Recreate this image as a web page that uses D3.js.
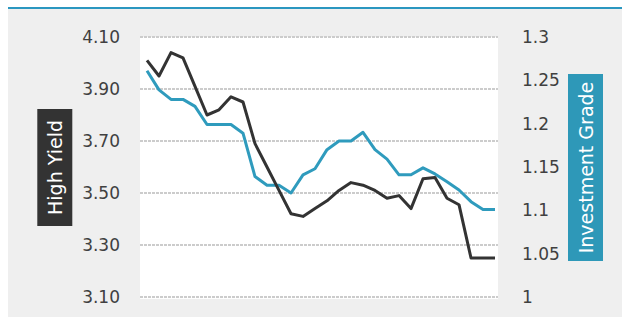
<!DOCTYPE html>
<html>
<head>
<meta charset="utf-8">
<script src="https://cdn.jsdelivr.net/npm/d3@7"></script>
<style>
  html, body { margin: 0; padding: 0; background: #ffffff; }
  svg { display: block; }
  .tick text { font-family: "DejaVu Sans", sans-serif; font-size: 17px; fill: #404040; }
</style>
</head>
<body>
<div id="chart"></div>
<script>
// valores (30 períodos)
const periods = d3.range(30);
const highYield = [4.01, 3.95, 4.04, 4.02, 3.91, 3.80, 3.82, 3.87, 3.85, 3.69,
                   3.60, 3.51, 3.42, 3.41, 3.44, 3.47, 3.51, 3.54, 3.53, 3.51,
                   3.48, 3.49, 3.44, 3.555, 3.56, 3.48, 3.455, 3.25, 3.25, 3.25];
const investGrade = [1.261, 1.239, 1.228, 1.228, 1.22, 1.199, 1.199, 1.199, 1.189, 1.139,
                     1.129, 1.129, 1.12, 1.141, 1.148, 1.17, 1.18, 1.18, 1.19, 1.17,
                     1.159, 1.141, 1.141, 1.149, 1.142, 1.133, 1.1235, 1.11, 1.101, 1.101];
const leftTicks = [3.10, 3.30, 3.50, 3.70, 3.90, 4.10];
const rightTicks = [1, 1.05, 1.1, 1.15, 1.2, 1.25, 1.3];
const leftTitle = "High Yield";
const rightTitle = "Investment Grade";

const W = 622, H = 317;
const plot = { left: 140, right: 498, top: 37, bottom: 297 };

const svg = d3.select("#chart").append("svg")
    .attr("width", W)
    .attr("height", H);

// fundo cinza e linha azul no topo
svg.append("rect")
    .attr("x", 8).attr("y", 9)
    .attr("width", W - 8).attr("height", H - 9)
    .attr("fill", "#efefef");
svg.append("line")
    .attr("x1", 8).attr("x2", W)
    .attr("y1", 8).attr("y2", 8)
    .attr("stroke", "#2a97c0")
    .attr("stroke-width", 2);

// área branca do gráfico
svg.append("rect")
    .attr("x", plot.left).attr("y", plot.top)
    .attr("width", plot.right - plot.left)
    .attr("height", plot.bottom - plot.top + 2)
    .attr("fill", "#ffffff");

const x = d3.scalePoint()
    .domain(periods)
    .range([147, 495]);

const yLeft = d3.scaleLinear()
    .domain([3.10, 4.10])
    .range([plot.bottom, plot.top]);

const yRight = d3.scaleLinear()
    .domain([1.0, 1.3])
    .range([plot.bottom, plot.top]);

// linhas de grade
svg.append("g")
    .selectAll("line")
    .data(leftTicks)
    .enter().append("line")
    .attr("x1", plot.left)
    .attr("x2", plot.right)
    .attr("y1", d => yLeft(d))
    .attr("y2", d => yLeft(d))
    .attr("stroke", "#cccccc")
    .attr("stroke-width", 2)
    .attr("stroke-dasharray", "3,1");

// eixos
const axL = svg.append("g")
    .attr("transform", `translate(${plot.left},0)`)
    .call(d3.axisLeft(yLeft).tickValues(leftTicks).tickFormat(d3.format(".2f")).tickSize(0).tickPadding(20));
axL.select(".domain").remove();

const axR = svg.append("g")
    .attr("transform", `translate(${plot.right},0)`)
    .call(d3.axisRight(yRight).tickValues(rightTicks).tickFormat(d => String(+d.toFixed(2))).tickSize(0).tickPadding(24));
axR.select(".domain").remove();

// séries
const lineLeft = d3.line()
    .x((d, i) => x(periods[i]))
    .y(d => yLeft(d));

const lineRight = d3.line()
    .x((d, i) => x(periods[i]))
    .y(d => yRight(d));

svg.append("path")
    .datum(investGrade)
    .attr("d", lineRight)
    .attr("fill", "none")
    .attr("stroke", "#2f9bbd")
    .attr("stroke-width", 3)
    .attr("stroke-linejoin", "round");

svg.append("path")
    .datum(highYield)
    .attr("d", lineLeft)
    .attr("fill", "none")
    .attr("stroke", "#333333")
    .attr("stroke-width", 3)
    .attr("stroke-linejoin", "round");

// títulos dos eixos em caixas
function axisTitle(text, cx, cy, w, h, fill) {
    svg.append("rect")
        .attr("x", cx - w / 2).attr("y", cy - h / 2)
        .attr("width", w).attr("height", h)
        .attr("fill", fill);
    svg.append("text")
        .attr("transform", `translate(${cx + 1},${cy}) rotate(-90)`)
        .attr("text-anchor", "middle")
        .attr("dy", "0.35em")
        .style("font-family", "'DejaVu Sans', sans-serif")
        .style("font-size", "19px")
        .style("fill", "#ffffff")
        .text(text);
}

axisTitle(leftTitle, 54.8, 167.5, 35, 117, "#333333");
axisTitle(rightTitle, 585.5, 167.5, 35, 187, "#2e98b8");
</script>
</body>
</html>
